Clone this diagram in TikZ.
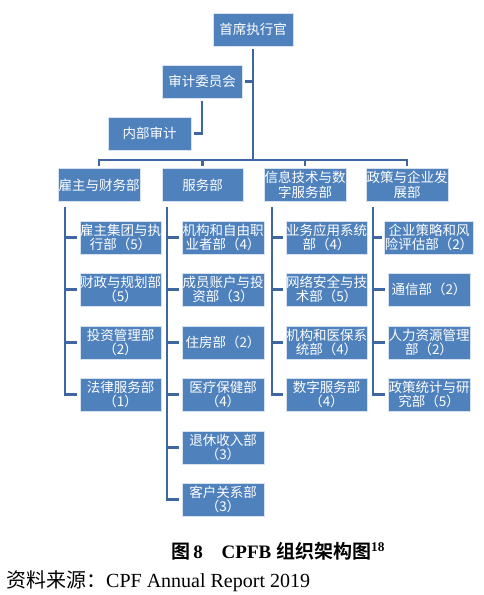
\documentclass[tikz,border=0pt]{standalone}
\usepackage{fontspec}
\setmainfont{Liberation Serif}
\newfontfamily\cjk{Noto Sans CJK SC}[BoldFont={Noto Sans CJK SC Bold}]
\definecolor{boxblue}{RGB}{79,129,189}
\definecolor{lineblue}{RGB}{62,102,160}
\definecolor{boxedge}{RGB}{215,226,240}
\tikzset{
  box/.style={draw=boxedge, line width=0.6pt, fill=boxblue, text=white,
    minimum height=33pt, inner sep=0pt, outer sep=3pt, align=center,
    font=\cjk\fontsize{13.5}{14.5}\selectfont},
  conn/.style={draw=lineblue, line width=2.8pt},
}
\begin{document}
\begin{tikzpicture}[x=1pt,y=-1pt]
\useasboundingbox (0,0) rectangle (484,595);
% top level
\node[box, minimum width=80pt] (ceo) at (253,29.5) {首席执行官};
\node[box, minimum width=80pt] (com) at (202,81.5) {审计委员会};
\node[box, minimum width=83pt] (aud) at (149.5,133.5) {内部审计};
% level 2
\node[box, minimum width=82pt] (d1) at (99,185) {雇主与财务部};
\node[box, minimum width=81pt] (d2) at (202.5,185) {服务部};
\node[box, minimum width=82pt] (d3) at (305,185) {信息技术与数\\字服务部};
\node[box, minimum width=82pt] (d4) at (407,185) {政策与企业发\\展部};
% column 1
\node[box, minimum width=81pt] (a1) at (120.5,237.5) {雇主集团与执\\行部（5）};
\node[box, minimum width=81pt] (a2) at (120.5,289.5) {财政与规划部\\（5）};
\node[box, minimum width=81pt] (a3) at (120.5,342.5) {投资管理部\\（2）};
\node[box, minimum width=81pt] (a4) at (120.5,394.5) {法律服务部\\（1）};
% column 2
\node[box, minimum width=82pt] (b1) at (223,237.5) {机构和自由职\\业者部（4）};
\node[box, minimum width=82pt] (b2) at (223,289.5) {成员账户与投\\资部（3）};
\node[box, minimum width=82pt] (b3) at (223,342.5) {住房部（2）};
\node[box, minimum width=82pt] (b4) at (223,394.5) {医疗保健部\\（4）};
\node[box, minimum width=82pt] (b5) at (223,447.5) {退休收入部\\（3）};
\node[box, minimum width=82pt] (b6) at (223,499.5) {客户关系部\\（3）};
% column 3
\node[box, minimum width=81pt] (c1) at (326.5,237.5) {业务应用系统\\部（4）};
\node[box, minimum width=81pt] (c2) at (326.5,289.5) {网络安全与技\\术部（5）};
\node[box, minimum width=81pt] (c3) at (326.5,342.5) {机构和医保系\\统部（4）};
\node[box, minimum width=81pt] (c4) at (326.5,394.5) {数字服务部\\（4）};
% column 4
\node[box, minimum width=82pt] (e1) at (429,237.5) {企业策略和风\\险评估部（2）};
\node[box, minimum width=82pt] (e2) at (429,289.5) {通信部（2）};
\node[box, minimum width=82pt] (e3) at (429,342.5) {人力资源管理\\部（2）};
\node[box, minimum width=82pt] (e4) at (429,394.5) {政策统计与研\\究部（5）};
% connector coordinates
\coordinate (bus) at (253,160);
\coordinate (t1) at (65,207);
\coordinate (t2) at (167,207);
\coordinate (t3) at (272,207);
\coordinate (t4) at (373,207);
% top connectors
\draw[conn] (ceo) -- (bus);
\draw[conn] (com.east) -- (com.east -| ceo);
\draw[conn] (com.south) |- (aud.east);
\draw[conn] (d1.north) |- (bus) -| (d4.north);
\draw[conn] (bus -| d2) -- (d2.north);
\draw[conn] (bus -| d3) -- (d3.north);
% trunks
\draw[conn] (t1) |- (a4.west);
\draw[conn] (t2) |- (b6.west);
\draw[conn] (t3) |- (c4.west);
\draw[conn] (t4) |- (e4.west);
\foreach \n in {a1,a2,a3} \draw[conn] (t1 |- \n) -- (\n.west);
\foreach \n in {b1,b2,b3,b4,b5} \draw[conn] (t2 |- \n) -- (\n.west);
\foreach \n in {c1,c2,c3} \draw[conn] (t3 |- \n) -- (\n.west);
\foreach \n in {e1,e2,e3} \draw[conn] (t4 |- \n) -- (\n.west);
% captions
\node[anchor=base, font=\fontsize{19}{22}\selectfont\bfseries, inner sep=0pt] (cap) at (278,558)
  {{\cjk\bfseries 图}\,8\quad CPFB {\cjk\bfseries 组织架构图}\textsuperscript{18}};
\node[anchor=base west, font=\fontsize{20}{22}\selectfont, inner sep=0pt] (src) at (6,587)
  {{\cjk 资料来源：}CPF Annual Report 2019};
\end{tikzpicture}
\end{document}
